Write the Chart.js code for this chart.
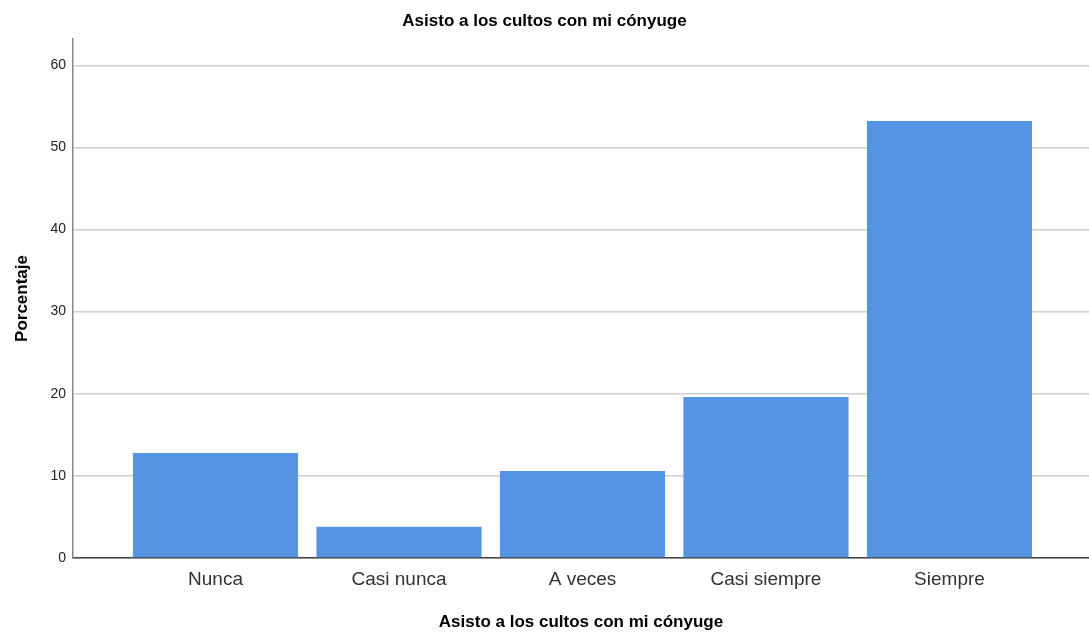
<!DOCTYPE html>
<html>
<head>
<meta charset="utf-8">
<script src="https://cdn.jsdelivr.net/npm/chart.js@4/dist/chart.umd.min.js"></script>
<style>
  html, body { margin: 0; padding: 0; background: #fff; }
  #wrap { width: 1089px; height: 635px; position: relative; }
</style>
</head>
<body>
<div id="wrap"><canvas id="grafico"></canvas></div>
<script>
// Datos (porcentaje por categoría)
const categorias = ['Nunca', 'Casi nunca', 'A veces', 'Casi siempre', 'Siempre'];
const porcentajes = [12.8, 3.8, 10.6, 19.6, 53.2];
const ticksY = [0, 10, 20, 30, 40, 50, 60];

const titulo = 'Asisto a los cultos con mi cónyuge';
const fuente = "Arial, 'Liberation Sans', sans-serif";

const ctx = document.getElementById('grafico').getContext('2d');

new Chart(ctx, {
  type: 'bar',
  data: {
    datasets: [{
      data: porcentajes.map((v, i) => ({ x: i, y: v })),
      backgroundColor: '#5594e3',
      borderWidth: 0,
      barPercentage: 0.9,
      categoryPercentage: 1.0
    }]
  },
  options: {
    responsive: true,
    maintainAspectRatio: false,
    animation: false,
    layout: { padding: { left: 0, right: 0, top: 0, bottom: 0 } },
    plugins: {
      legend: { display: false },
      tooltip: { enabled: false },
      title: {
        display: true,
        text: titulo,
        color: '#000',
        font: { family: fuente, size: 17, weight: 'bold' },
        padding: { top: 11, bottom: 7.6 }
      }
    },
    scales: {
      x: {
        type: 'linear',
        offset: false,
        min: -0.7766,
        max: 4.7604,
        afterBuildTicks: scale => {
          scale.ticks = categorias.map((c, i) => ({ value: i }));
        },
        afterFit: scale => { scale.height = 77; },
        grid: { display: false, drawTicks: false, offset: false },
        border: { display: true, color: '#444', width: 1.5 },
        ticks: {
          padding: 10,
          color: '#333',
          font: { family: fuente, size: 19 },
          maxRotation: 0,
          autoSkip: false,
          callback: v => categorias[v] ?? ''
        },
        title: {
          display: true,
          text: titulo,
          color: '#000',
          font: { family: fuente, size: 17, weight: 'bold' },
          padding: { top: 0, bottom: 2 }
        }
      },
      y: {
        min: 0,
        max: 63.2,
        afterBuildTicks: scale => {
          scale.ticks = ticksY.map(v => ({ value: v }));
        },
        afterFit: scale => { scale.width = 73; },
        grid: { color: '#d0d0d0', lineWidth: 1.5, drawTicks: false },
        border: { display: true, color: '#888', width: 1.5 },
        ticks: {
          padding: 7,
          color: '#222',
          font: { family: fuente, size: 14 }
        },
        title: {
          display: true,
          text: 'Porcentaje',
          color: '#000',
          font: { family: fuente, size: 17, weight: 'bold' },
          padding: { top: 12, bottom: 0 }
        }
      }
    }
  }
});
</script>
</body>
</html>
